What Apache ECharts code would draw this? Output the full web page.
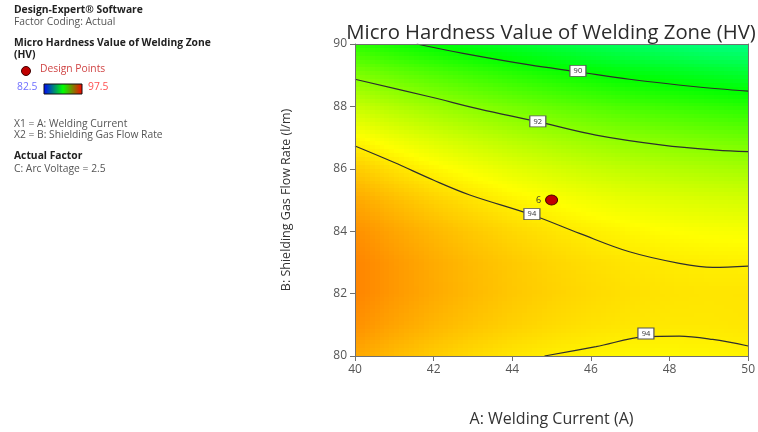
<!DOCTYPE html>
<html><head><meta charset="utf-8">
<script src="https://cdn.jsdelivr.net/npm/echarts@6/dist/echarts.min.js"></script>
<style>html,body{margin:0;padding:0;background:#fff}#c{width:758px;height:432px}</style>
</head><body><div id="c"></div>
<script>
// ---- data ----
const currentA = [40,41,42,43,44,45,46,47,48,49,50];   // A: Welding Current
const gasFlowB = [80,81,82,83,84,85,86,87,88,89,90];   // B: Shielding Gas Flow Rate
// predicted micro hardness (HV), rows = gasFlowB, cols = currentA
const hardness = [
 [95.03,94.75,94.50,94.29,94.12,94.00,93.90,93.85,93.84,93.86,93.92],
 [95.38,95.09,94.83,94.62,94.44,94.29,94.18,94.11,94.08,94.08,94.11],
 [95.56,95.26,95.00,94.77,94.57,94.42,94.29,94.20,94.15,94.12,94.13],
 [95.56,95.26,94.98,94.74,94.54,94.36,94.22,94.11,94.04,93.99,93.97],
 [95.38,95.07,94.79,94.54,94.32,94.14,93.98,93.85,93.75,93.68,93.64],
 [95.03,94.72,94.42,94.17,93.93,93.73,93.56,93.41,93.29,93.20,93.13],
 [94.51,94.19,93.88,93.62,93.37,93.16,92.96,92.80,92.66,92.54,92.44],
 [93.81,93.48,93.17,92.89,92.63,92.40,92.19,92.01,91.85,91.71,91.59],
 [92.93,92.60,92.28,91.99,91.72,91.47,91.25,91.04,90.86,90.70,90.55],
 [91.88,91.54,91.21,90.91,90.63,90.37,90.13,89.90,89.70,89.52,89.34],
 [90.65,90.31,89.97,89.66,89.37,89.09,88.83,88.59,88.37,88.16,88.10]
];
const contour90  = [[41.57,90],[42.75,89.70],[44.44,89.33],[45.67,89.11],[46.98,88.87],[48.67,88.63],[50,88.49]];
const contour92  = [[40,88.87],[41.9,88.31],[43.17,87.91],[44.65,87.51],[46.13,87.08],[47.82,86.76],[49.2,86.6],[50,86.55]];
const contour94a = [[40,86.73],[41,86.2],[41.99,85.64],[42.92,85.16],[44.51,84.52],[45.71,83.93],[46.98,83.34],[48.25,82.97],[49.1,82.84],[50,82.88]];
const contour94b = [[44.82,80],[46.13,80.30],[47.4,80.62],[48.25,80.64],[49.1,80.53],[50,80.32]];
const contourLabels = [[45.67,89.14,90],[44.65,87.52,92],[44.5,84.55,94],[47.4,80.72,94]];
const designPoints = [[45,85,6]];
const xTicks = [40,42,44,46,48,50];
const yTicks = [80,82,84,86,88,90];
const colorRange = [82.5,97.5];

// ---- rendering helpers ----
const FONT = '"Open Sans", "Noto Sans", sans-serif';
function colorOf(v){
  const lo = colorRange[0], hi = colorRange[1], st = (hi-lo)/4;
  const stops = [[lo,[0,0,255]],[lo+st,[0,255,255]],[lo+2*st,[0,255,0]],[lo+3*st,[255,255,0]],[hi,[255,0,0]]];
  if (v <= stops[0][0]) return 'rgb(0,0,255)';
  for (let k=0;k<stops.length-1;k++){
    const a=stops[k], b=stops[k+1];
    if (v<=b[0]){
      const t=(v-a[0])/(b[0]-a[0]);
      const c=a[1].map((x,m)=>Math.round(x+(b[1][m]-x)*t));
      return 'rgb('+c.join(',')+')';
    }
  }
  return 'rgb(255,0,0)';
}
const cells = [];
for (let j=0;j<gasFlowB.length-1;j++) for (let i=0;i<currentA.length-1;i++) cells.push([currentA[i],gasFlowB[j],i,j]);
const NS = 8;
function renderCell(params, api){
  const i=api.value(2), j=api.value(3);
  const p0=api.coord([currentA[i],gasFlowB[j]]);
  const p1=api.coord([currentA[i+1],gasFlowB[j+1]]);
  const v00=hardness[j][i], v10=hardness[j][i+1], v01=hardness[j+1][i], v11=hardness[j+1][i+1];
  const ch=[];
  for (let sx=0;sx<NS;sx++){
    const x0=Math.round(p0[0]+(p1[0]-p0[0])*sx/NS), x1=Math.round(p0[0]+(p1[0]-p0[0])*(sx+1)/NS);
    for (let sy=0;sy<NS;sy++){
      const y0=Math.round(p0[1]+(p1[1]-p0[1])*sy/NS), y1=Math.round(p0[1]+(p1[1]-p0[1])*(sy+1)/NS);
      const u=(sx+0.5)/NS, w=(sy+0.5)/NS;
      const v=v00*(1-u)*(1-w)+v10*u*(1-w)+v01*(1-u)*w+v11*u*w;
      ch.push({type:'rect',shape:{x:x0,y:Math.min(y0,y1),width:x1-x0,height:Math.abs(y1-y0)},style:{fill:colorOf(v)}});
    }
  }
  return {type:'group',children:ch};
}
function contourSeries(d){
  return {type:'line',data:d,smooth:0.35,symbol:'none',silent:true,z:5,
    lineStyle:{color:'#2e2e2e',width:1.2}};
}
const chart = echarts.init(document.getElementById('c'),null,{renderer:'canvas'});
const axisCommon = {
  axisLine:{show:true,lineStyle:{color:'#707070',width:1}},
  axisTick:{show:true,inside:false,length:5,lineStyle:{color:'#707070'}},
  axisLabel:{color:'#555',fontSize:12,fontFamily:FONT},
  splitLine:{show:false},
  z:10
};
const frameAxis = {axisLine:{show:true,onZero:false,lineStyle:{color:'#707070',width:1}},axisTick:{show:false},axisLabel:{show:false},splitLine:{show:false},z:10};
const LF = 10.3;
chart.setOption({
  animation:false,
  backgroundColor:'#fff',
  grid:{left:355,top:44,width:394,height:312,show:false},
  xAxis:[Object.assign({type:'value',min:xTicks[0],max:xTicks[xTicks.length-1],interval:2,
      name:'A: Welding Current (A)',nameLocation:'middle',nameGap:55,
      nameTextStyle:{fontFamily:FONT,fontSize:16,color:'#333'}},axisCommon),
    Object.assign({type:'value',position:'top',min:40,max:50},frameAxis)],
  yAxis:[Object.assign({type:'value',min:yTicks[0],max:yTicks[yTicks.length-1],interval:2,
      name:'B: Shielding Gas Flow Rate (l/m)',nameLocation:'middle',nameGap:62,
      nameTextStyle:{fontFamily:FONT,fontSize:12.5,color:'#333'}},axisCommon),
    Object.assign({type:'value',position:'right',min:80,max:90},frameAxis)],
  series:[
    {type:'custom',coordinateSystem:'cartesian2d',data:cells,renderItem:renderCell,silent:true,z:1,
      encode:{x:0,y:1},clip:true},
    contourSeries(contour90),contourSeries(contour92),contourSeries(contour94a),contourSeries(contour94b),
    {type:'scatter',data:contourLabels,symbol:'rect',symbolSize:[16,11],z:6,silent:true,
      itemStyle:{color:'#fff',borderColor:'#555',borderWidth:1,opacity:1},
      label:{show:true,position:'inside',formatter:p=>String(p.value[2]),fontSize:7.5,color:'#333',fontFamily:FONT}},
    {type:'scatter',data:designPoints,symbol:'circle',symbolSize:[12,10],z:7,silent:true,
      itemStyle:{color:'#c00000',borderColor:'#4a0000',borderWidth:1,opacity:1},
      label:{show:true,position:'left',distance:4,formatter:p=>String(p.value[2]),fontSize:9,color:'#333',fontFamily:FONT}}
  ],
  graphic:[
    {type:'text',x:551,y:33,z:20,style:{text:'Micro Hardness Value of Welding Zone (HV)',font:'20.3px '+FONT,fill:'#2b2b2b',textAlign:'center',textVerticalAlign:'middle'}},
    {type:'text',left:14,top:5,style:{text:'Design-Expert® Software',font:'bold '+LF+'px '+FONT,fill:'#222'}},
    {type:'text',left:14,top:17,style:{text:'Factor Coding: Actual',font:LF+'px '+FONT,fill:'#555'}},
    {type:'text',left:14,top:38,style:{text:'Micro Hardness Value of Welding Zone',font:'bold '+LF+'px '+FONT,fill:'#222'}},
    {type:'text',left:14,top:50,style:{text:'(HV)',font:'bold '+LF+'px '+FONT,fill:'#222'}},
    {type:'circle',shape:{cx:26,cy:71,r:4.5},style:{fill:'#c00000',stroke:'#400000',lineWidth:1}},
    {type:'text',left:40,top:64,style:{text:'Design Points',font:LF+'px '+FONT,fill:'#d04545'}},
    {type:'text',left:17,top:82,style:{text:'82.5',font:LF+'px '+FONT,fill:'#6f6fff'}},
    {type:'rect',shape:{x:44,y:84,width:38,height:10},style:{stroke:'#111',lineWidth:1,
      fill:new echarts.graphic.LinearGradient(0,0,1,0,[{offset:0,color:'#0000ff'},{offset:0.5,color:'#00ff00'},{offset:1,color:'#ff0000'}])}},
    {type:'text',left:88,top:82,style:{text:'97.5',font:LF+'px '+FONT,fill:'#ff5050'}},
    {type:'text',left:14,top:119,style:{text:'X1 = A: Welding Current',font:LF+'px '+FONT,fill:'#555'}},
    {type:'text',left:14,top:130,style:{text:'X2 = B: Shielding Gas Flow Rate',font:LF+'px '+FONT,fill:'#555'}},
    {type:'text',left:14,top:151,style:{text:'Actual Factor',font:'bold '+LF+'px '+FONT,fill:'#222'}},
    {type:'text',left:14,top:164,style:{text:'C: Arc Voltage = 2.5',font:LF+'px '+FONT,fill:'#555'}}
  ]
});
</script>
</body></html>
